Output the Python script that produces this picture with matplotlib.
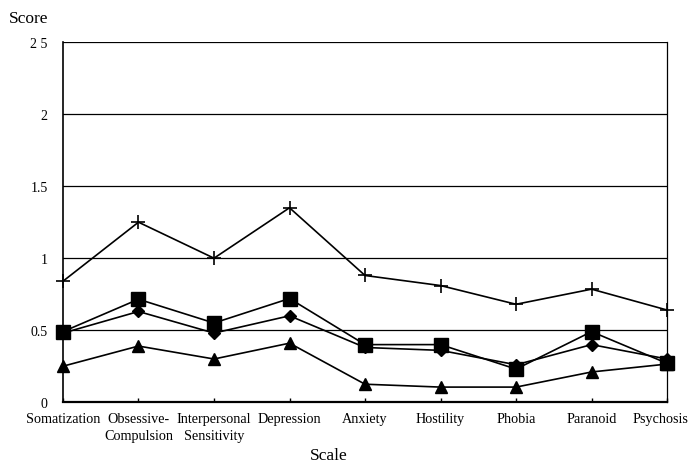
import matplotlib
matplotlib.use('Agg')
import matplotlib.pyplot as plt
import matplotlib.transforms as mtransforms

scales = ['Somatization', 'Obsessive-\nCompulsion', 'Interpersonal\nSensitivity', 'Depression',
          'Anxiety', 'Hostility', 'Phobia', 'Paranoid', 'Psychosis']
plus_scores = [0.84, 1.25, 1.00, 1.35, 0.88, 0.81, 0.68, 0.785, 0.64]
square_scores = [0.49, 0.715, 0.55, 0.72, 0.40, 0.40, 0.23, 0.49, 0.27]
diamond_scores = [0.48, 0.63, 0.48, 0.60, 0.38, 0.36, 0.26, 0.40, 0.30]
triangle_scores = [0.25, 0.39, 0.30, 0.41, 0.125, 0.105, 0.105, 0.21, 0.265]
y_ticks = [0, 0.5, 1, 1.5, 2, 2.5]
y_labels = ['0', '0.5', '1', '1.5', '2', '2 5']

plt.rcParams['font.family'] = ['Liberation Serif', 'DejaVu Serif']

fig = plt.figure(figsize=(6.92, 4.64), dpi=100)
ax = fig.add_axes([0.091, 0.131, 0.873, 0.776])

x = list(range(len(scales)))
ax.plot(x, plus_scores, color='black', lw=1.2, marker='+', ms=10, mew=1.2, clip_on=False, zorder=3)
ax.plot(x, diamond_scores, color='black', lw=1.2, marker='D', ms=6, clip_on=False, zorder=3)
ax.plot(x, square_scores, color='black', lw=1.2, marker='s', ms=10, clip_on=False, zorder=4)
ax.plot(x, triangle_scores, color='black', lw=1.2, marker='^', ms=8, clip_on=False, zorder=3)

ax.set_xlim(0, len(scales) - 1)
ax.set_ylim(0, 2.5)
ax.set_yticks(y_ticks)
ax.set_yticklabels(y_labels, fontsize=10)
ax.set_xticks(x)
ax.set_xticklabels(scales, fontsize=10.2, linespacing=1.45)
ax.tick_params(axis='x', direction='in', length=3, width=1, pad=7)
ax.tick_params(axis='y', length=0, pad=11)

# last label sits against the figure edge, nudge it left a little
last = ax.get_xticklabels()[-1]
last.set_transform(last.get_transform() + mtransforms.ScaledTranslation(-5 / 72, 0, fig.dpi_scale_trans))

for v in y_ticks[1:]:
    ax.axhline(v, color='black', lw=0.9, zorder=1)

ax.spines['top'].set_visible(False)
ax.spines['left'].set_linewidth(1.2)
ax.spines['bottom'].set_linewidth(1.6)
ax.spines['right'].set_linewidth(0.9)

fig.text(0.013, 0.96, 'Score', fontsize=12.5, va='center', ha='left')
fig.text(0.475, 0.018, 'Scale', fontsize=12.5, va='center', ha='center')

fig.savefig('out.png', dpi=100)
